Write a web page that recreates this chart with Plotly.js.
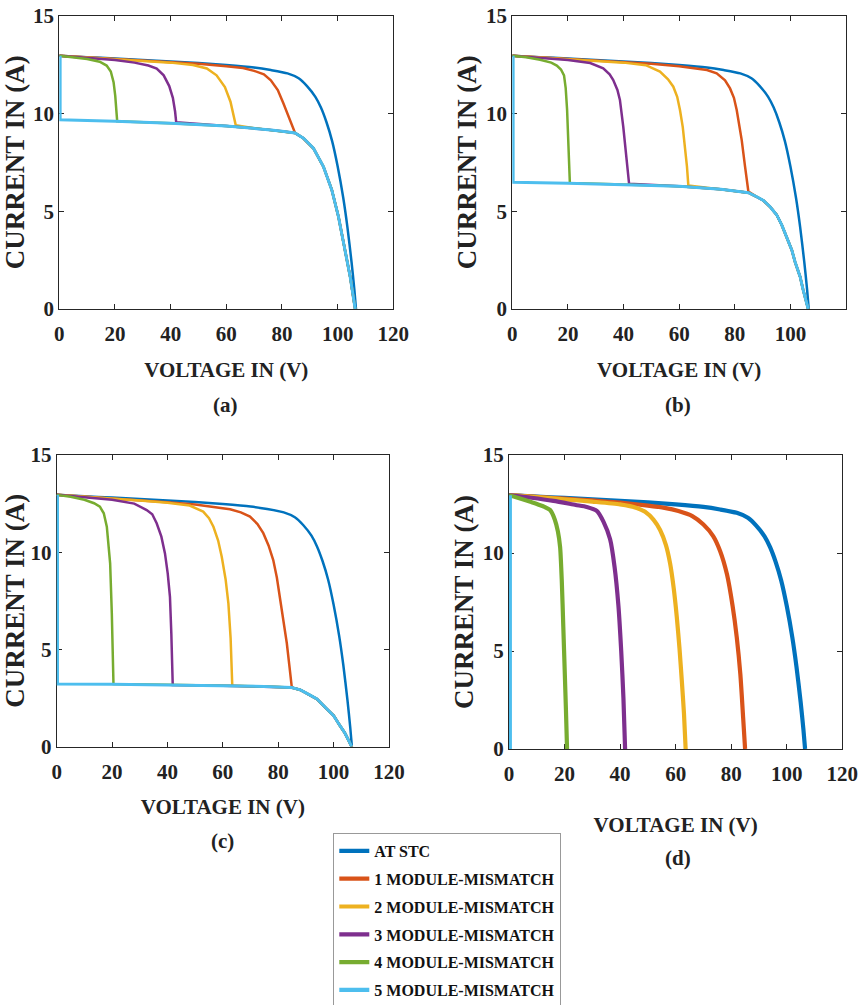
<!DOCTYPE html>
<html>
<head>
<meta charset="utf-8">
<script src="https://cdn.plot.ly/plotly-3.0.1.min.js"></script>
<style>html,body{margin:0;padding:0;background:#fff;}#chart{width:861px;height:1005px;}</style>
</head>
<body>
<div id="chart"></div>
<script>
// ---------- series names and colours ----------
const seriesNames = ['AT STC','1 MODULE-MISMATCH','2 MODULE-MISMATCH','3 MODULE-MISMATCH','4 MODULE-MISMATCH','5 MODULE-MISMATCH'];
const seriesColors = ['#0072BD','#D95319','#EDB120','#7E2F8E','#77AC30','#4DBEEE'];
const panelLabels = ['(a)','(b)','(c)','(d)'];
const xTitle = 'VOLTAGE IN (V)';
const yTitle = 'CURRENT IN (A)';
const xTickVals = [0,20,40,60,80,100,120];
const yTickVals = [0,5,10,15];

// ---------- AT STC (same in all panels) ----------
const stcV = [0,10,20,30,40,50,60,70,76,82,86,89,92,94,96,98,100,102,103.5,105,106,106.6];
const stcI = [12.95,12.88,12.81,12.74,12.66,12.58,12.48,12.35,12.22,12.05,11.8,11.4,10.85,10.3,9.55,8.6,7.3,5.7,4.2,2.4,1.0,0];

// ---------- panel (a): mismatched modules at 75% ----------
const aM1V = [0,10,20,30,40,50,60,66,70,73.5,76,78.5,80.5,82,83.3,84.7,87.7,91.3,94.9,97.9,100.3,102.7,104.5,106.3];
const aM1I = [12.95,12.87,12.79,12.71,12.63,12.54,12.42,12.32,12.18,12.0,11.7,11.2,10.52,9.95,9.45,9.0,8.73,8.22,7.28,6.09,4.72,3.02,1.65,0];
const aM2V = [0,10,20,30,40,48,53,56.5,59.5,61.5,62.7,63.4,70,76,80,84.7,87.7,91.3,94.9,97.9,100.3,102.7,104.5,106.3];
const aM2I = [12.95,12.87,12.78,12.7,12.6,12.48,12.3,11.95,11.35,10.6,9.9,9.4,9.25,9.16,9.09,9.0,8.73,8.22,7.28,6.09,4.72,3.02,1.65,0];
const aM3V = [0,10,20,27,32,35,37.5,39.5,40.8,41.6,42,60,70,76,80,84.7,87.7,91.3,94.9,97.9,100.3,102.7,104.5,106.3];
const aM3I = [12.95,12.85,12.73,12.6,12.45,12.3,11.95,11.4,10.8,10.1,9.55,9.36,9.25,9.16,9.09,9.0,8.73,8.22,7.28,6.09,4.72,3.02,1.65,0];
const aM4V = [0,5,10,14.5,17,18.5,19.5,20.1,20.5,20.8,40,60,70,76,80,84.7,87.7,91.3,94.9,97.9,100.3,102.7,104.5,106.3];
const aM4I = [12.95,12.88,12.78,12.65,12.45,12.15,11.6,10.9,10.1,9.6,9.5,9.36,9.25,9.16,9.09,9.0,8.73,8.22,7.28,6.09,4.72,3.02,1.65,0];
const aM5V = [0.3,0.3,20,40,60,70,76,80,84.7,87.7,91.3,94.9,97.9,100.3,102.7,104.5,106.3];
const aM5I = [12.95,9.68,9.6,9.5,9.36,9.25,9.16,9.09,9.0,8.73,8.22,7.28,6.09,4.72,3.02,1.65,0];

// ---------- panel (b): mismatched modules at 50% ----------
const bM1V = [0,10,20,30,40,50,60,66,70,73.5,76.5,78.3,79.7,80.7,81.7,82.5,83.7,84.9,87.9,90.3,92.7,95.1,96.9,98.7,100.5,101.7,103.5,104.6,106.4];
const bM1I = [12.95,12.87,12.79,12.71,12.63,12.54,12.42,12.32,12.22,12.05,11.7,11.28,10.8,10.18,9.4,8.64,7.28,6.0,5.74,5.55,5.23,4.81,4.3,3.7,3.02,2.4,1.65,0.97,0];
const bM2V = [0,10,20,30,40,48,53.1,56,57.9,59.3,60.3,61.3,62.1,62.8,63.3,75,84.9,87.9,90.3,92.7,95.1,96.9,98.7,100.5,101.7,103.5,104.6,106.4];
const bM2I = [12.95,12.87,12.78,12.7,12.6,12.47,12.14,11.75,11.37,10.85,10.18,9.3,8.3,7.3,6.32,6.12,5.95,5.74,5.55,5.23,4.81,4.3,3.7,3.02,2.4,1.65,0.97,0];
const bM3V = [0,10,20,28,32.7,35,36.3,37.8,38.7,39.9,41.1,42,60,75,84.9,87.9,90.3,92.7,95.1,96.9,98.7,100.5,101.7,103.5,104.6,106.4];
const bM3I = [12.95,12.85,12.73,12.58,12.31,12.0,11.71,11.2,10.69,9.32,7.79,6.4,6.28,6.12,5.95,5.74,5.55,5.23,4.81,4.3,3.7,3.02,2.4,1.65,0.97,0];
const bM4V = [0,5,10,14,16,17.5,18.6,19.2,19.7,20.1,20.5,20.7,40,60,75,84.9,87.9,90.3,92.7,95.1,96.9,98.7,100.5,101.7,103.5,104.6,106.4];
const bM4I = [12.95,12.87,12.75,12.6,12.45,12.25,11.95,11.3,10.2,8.9,7.4,6.45,6.37,6.28,6.12,5.95,5.74,5.55,5.23,4.81,4.3,3.7,3.02,2.4,1.65,0.97,0];
const bM5V = [0.3,0.3,20,40,60,75,84.9,87.9,90.3,92.7,95.1,96.9,98.7,100.5,101.7,103.5,104.6,106.4];
const bM5I = [12.95,6.48,6.43,6.37,6.28,6.12,5.95,5.74,5.55,5.23,4.81,4.3,3.7,3.02,2.4,1.65,0.97,0];

// ---------- panel (c): mismatched modules at 25% ----------
const cM1V = [0,10,20,30,40,50,57,62.6,66.5,69.8,72.5,74.6,76.5,78.2,79.5,80.6,82,83.1,84,84.9,88,91.5,94,97.5,100,102.3,104,105.5,106.5];
const cM1I = [12.95,12.86,12.77,12.67,12.57,12.45,12.33,12.21,12.05,11.83,11.45,10.98,10.35,9.6,8.7,7.72,6.5,5.32,4.2,3.05,2.92,2.65,2.45,1.95,1.6,1.08,0.72,0.3,0];
const cM2V = [0,10,20,30,40,48,52.9,55,56.6,58.3,59.6,61,62,62.8,63.4,75,84.8,88,91.5,94,97.5,100,102.3,104,105.5,106.5];
const cM2I = [12.95,12.86,12.77,12.66,12.55,12.4,12.09,11.75,11.31,10.6,9.77,8.6,7.37,5.6,3.14,3.1,3.04,2.92,2.65,2.45,1.95,1.6,1.08,0.72,0.3,0];
const cM3V = [0,10,20,28,32.5,34.5,36.1,37.8,39.1,40.1,40.9,41.4,41.9,60,75,84.8,88,91.5,94,97.5,100,102.3,104,105.5,106.5];
const cM3I = [12.95,12.84,12.7,12.5,12.17,11.95,11.49,10.8,9.94,8.9,7.71,5.8,3.17,3.14,3.1,3.04,2.92,2.65,2.45,1.95,1.6,1.08,0.72,0.3,0];
const cM4V = [0,5,10,13.5,15.6,17,18.1,18.8,19.3,19.9,20.2,20.5,40,60,75,84.8,88,91.5,94,97.5,100,102.3,104,105.5,106.5];
const cM4I = [12.95,12.85,12.7,12.52,12.34,12.0,11.31,10.4,9.43,6.86,5.0,3.22,3.18,3.14,3.1,3.04,2.92,2.65,2.45,1.95,1.6,1.08,0.72,0.3,0];
const cM5V = [0.3,0.3,20,40,60,75,84.8,88,91.5,94,97.5,100,102.3,104,105.5,106.5];
const cM5I = [12.95,3.22,3.21,3.18,3.14,3.1,3.04,2.92,2.65,2.45,1.95,1.6,1.08,0.72,0.3,0];

// ---------- panel (d): mismatched modules fully shaded ----------
const dM1V = [0,10,20,30,40,50,56,61,66,70,73.5,76,78.5,80.5,82,83.3,84.3,85];
const dM1I = [12.95,12.86,12.77,12.68,12.57,12.42,12.3,12.14,11.88,11.45,10.86,10.1,8.9,7.3,5.7,3.8,1.6,0];
const dM2V = [0,10,20,30,40,46,49,52,54.4,56.5,58,59.3,60.4,61.4,62.2,63,63.6];
const dM2I = [12.95,12.85,12.74,12.62,12.48,12.3,12.1,11.7,11.17,10.4,9.47,8.2,6.75,5.1,3.52,1.8,0];
const dM3V = [0,8,16,24,28,31.6,34,36.4,38,39.4,40.4,41.2,41.8];
const dM3I = [12.95,12.82,12.66,12.45,12.35,12.15,11.6,10.7,9.3,7.3,5.0,2.6,0];
const dM4V = [0,4,8,12,14.8,16.5,17.6,18.4,19.0,19.55,20.1,20.5,20.9];
const dM4I = [12.95,12.78,12.6,12.4,12.19,11.7,11.1,10.3,8.6,6.24,3.8,2.0,0];
const dM5V = [0.3,0.3];
const dM5I = [12.95,0];

// ---------- build ----------
const panels = [
  {xa:'x',  ya:'y',  w:2.5, series:[[stcV,stcI],[aM1V,aM1I],[aM2V,aM2I],[aM3V,aM3I],[aM4V,aM4I],[aM5V,aM5I]]},
  {xa:'x2', ya:'y2', w:2.5, series:[[stcV,stcI],[bM1V,bM1I],[bM2V,bM2I],[bM3V,bM3I],[bM4V,bM4I],[bM5V,bM5I]]},
  {xa:'x3', ya:'y3', w:2.5, series:[[stcV,stcI],[cM1V,cM1I],[cM2V,cM2I],[cM3V,cM3I],[cM4V,cM4I],[cM5V,cM5I]]},
  {xa:'x4', ya:'y4', w:4.2, series:[[stcV,stcI],[dM1V,dM1I],[dM2V,dM2I],[dM3V,dM3I],[dM4V,dM4I],[dM5V,dM5I]]}
];

const traces = [];
panels.forEach((p, pi) => {
  p.series.forEach((s, si) => {
    const smooth = (si === 0 || pi === 3) && si !== 5;
    traces.push({
      x: s[0], y: s[1], type: 'scatter', mode: 'lines',
      name: seriesNames[si], legendgroup: 'g' + si,
      showlegend: pi === 3,
      line: {color: seriesColors[si], width: si === 5 && pi < 3 ? 3 : p.w,
             shape: smooth ? 'spline' : 'linear', smoothing: 0.6},
      xaxis: p.xa, yaxis: p.ya, hoverinfo: 'x+y+name'
    });
  });
});

const FONT = 'Liberation Serif';
const tickFont = {family: FONT, size: 21, color: '#222', weight: 'bold'};
const titleFontX = {family: FONT, size: 21, color: '#222', weight: 'bold'};
const titleFontY = {family: FONT, size: 27, color: '#222', weight: 'bold'};

function xAxis(domain, anchor, standoff) {
  return {domain: domain, anchor: anchor, range: [0,120], tickvals: xTickVals,
    ticks: 'inside', ticklen: 5, tickwidth: 1, tickcolor: '#262626', mirror: 'allticks',
    showline: true, linecolor: '#262626', linewidth: 1, showgrid: false, zeroline: false,
    tickfont: tickFont, ticklabelstandoff: 6, layer: 'below traces',
    title: {text: xTitle, font: titleFontX, standoff: standoff}};
}
function yAxis(domain, anchor, standoff) {
  return {domain: domain, anchor: anchor, range: [0,15], tickvals: yTickVals,
    ticks: 'inside', ticklen: 5, tickwidth: 1, tickcolor: '#262626', mirror: 'allticks',
    showline: true, linecolor: '#262626', linewidth: 1, showgrid: false, zeroline: false,
    tickfont: tickFont, layer: 'below traces',
    title: {text: yTitle, font: titleFontY, standoff: standoff}};
}

const W = 861, H = 1005;
const px = v => v / W, py = v => 1 - v / H;

const layout = {
  width: W, height: H,
  margin: {l: 0, r: 0, t: 0, b: 0, autoexpand: false},
  paper_bgcolor: '#fff', plot_bgcolor: '#fff',
  showlegend: true,
  xaxis:  xAxis([px(59.3), px(393.3)], 'y', 17),
  yaxis:  yAxis([py(309), py(15.7)], 'x', 1),
  xaxis2: xAxis([px(512.3), px(846)], 'y2', 17),
  yaxis2: yAxis([py(309), py(15.7)], 'x2', 1),
  xaxis3: xAxis([px(56.7), px(389)], 'y3', 16),
  yaxis3: yAxis([py(746.7), py(455)], 'x3', 1),
  xaxis4: xAxis([px(509), px(842.3)], 'y4', 32),
  yaxis4: yAxis([py(749), py(455)], 'x4', 1),
  legend: {x: px(333.3), y: py(833), xanchor: 'left', yanchor: 'top',
    bgcolor: '#fff', bordercolor: '#999', borderwidth: 1,
    font: {family: FONT, size: 16, color: '#111', weight: 'bold'},
    traceorder: 'grouped', tracegroupgap: 4},
  annotations: [
    {text: panelLabels[0], x: px(225), y: py(405)},
    {text: panelLabels[1], x: px(678), y: py(405)},
    {text: panelLabels[2], x: px(222), y: py(841)},
    {text: panelLabels[3], x: px(678), y: py(858)}
  ].map(a => Object.assign(a, {xref: 'paper', yref: 'paper', showarrow: false,
      xanchor: 'center', yanchor: 'middle', font: {family: FONT, size: 21, color: '#222', weight: 'bold'}}))
};

Plotly.newPlot('chart', traces, layout, {displayModeBar: false, staticPlot: true});
</script>
</body>
</html>
